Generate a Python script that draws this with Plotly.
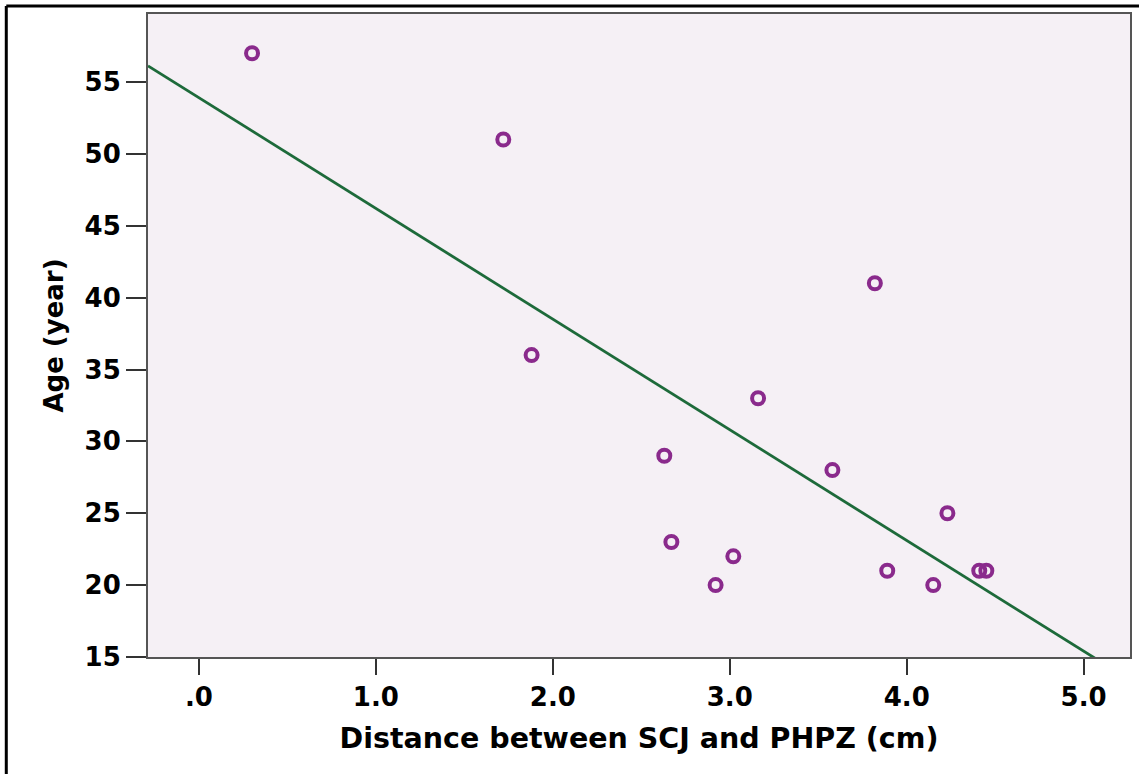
import numpy as np
import plotly.graph_objects as go

# distance between SCJ and PHPZ (cm) and age (year)
distance_cm = [0.30, 1.72, 1.88, 2.63, 2.67, 2.92, 3.02, 3.16, 3.58, 3.82, 3.89, 4.15, 4.23, 4.41, 4.45]
age_years = [57, 51, 36, 29, 23, 20, 22, 33, 28, 41, 21, 20, 25, 21, 21]

x_tickvals = [0, 1, 2, 3, 4, 5]
x_ticktext = [".0", "1.0", "2.0", "3.0", "4.0", "5.0"]
y_tickvals = [15, 20, 25, 30, 35, 40, 45, 50, 55]

x_range = [-0.288, 5.262]
y_range = [15, 59.73]

W, H = 1139, 774
M = dict(l=148, r=7, t=14, b=117)

FONT = "DejaVu Sans, Arial, sans-serif"
PURPLE = "#8A2A8C"
GREEN = "#1D6A3A"

# least squares fit line
slope, intercept = np.polyfit(distance_cm, age_years, 1)
fit_x = np.array(x_range)
fit_y = intercept + slope * fit_x

fig = go.Figure()
fig.add_trace(
    go.Scatter(
        x=fit_x,
        y=fit_y,
        mode="lines",
        line=dict(color=GREEN, width=2.8),
        hoverinfo="skip",
        showlegend=False,
    )
)
fig.add_trace(
    go.Scatter(
        x=distance_cm,
        y=age_years,
        mode="markers",
        marker=dict(symbol="circle-open", size=12, color=PURPLE, line=dict(width=4, color=PURPLE)),
        showlegend=False,
    )
)

axis_common = dict(
    showgrid=False,
    zeroline=False,
    showline=True,
    linecolor="#555555",
    linewidth=2,
    mirror=True,
    ticks="outside",
    tickcolor="#333333",
    tickwidth=2,
    tickfont=dict(family=FONT, size=26, color="black", weight="bold"),
)

fig.update_xaxes(
    **axis_common,
    range=x_range,
    tickvals=x_tickvals,
    ticktext=x_ticktext,
    ticklen=16,
    title=dict(
        text="Distance between SCJ and PHPZ (cm)",
        font=dict(family=FONT, size=28.5, color="black", weight="bold"),
        standoff=17,
    ),
)
fig.update_yaxes(
    **axis_common,
    range=y_range,
    tickvals=y_tickvals,
    ticklen=20,
    title=dict(
        text="Age (year)",
        font=dict(family=FONT, size=26, color="black", weight="bold"),
        standoff=14,
    ),
)

# outer frame lines (top and left) as in the cropped original
pw = W - M["l"] - M["r"]
ph = H - M["t"] - M["b"]
fx = lambda px: (px - M["l"]) / pw
fy = lambda py: (H - M["b"] - py) / ph
fig.add_shape(type="line", xref="paper", yref="paper", x0=fx(6), x1=fx(W + 5), y0=fy(6), y1=fy(6),
              line=dict(color="black", width=3))
fig.add_shape(type="line", xref="paper", yref="paper", x0=fx(6), x1=fx(6), y0=fy(6), y1=fy(H + 5),
              line=dict(color="black", width=3))

fig.update_layout(
    width=W,
    height=H,
    margin=M,
    paper_bgcolor="white",
    plot_bgcolor="#F5F0F5",
    font=dict(family=FONT, color="black"),
)

fig.write_html(
    "out.html",
    config={"displayModeBar": False},
    post_script="document.body.style.margin='0';",
)
